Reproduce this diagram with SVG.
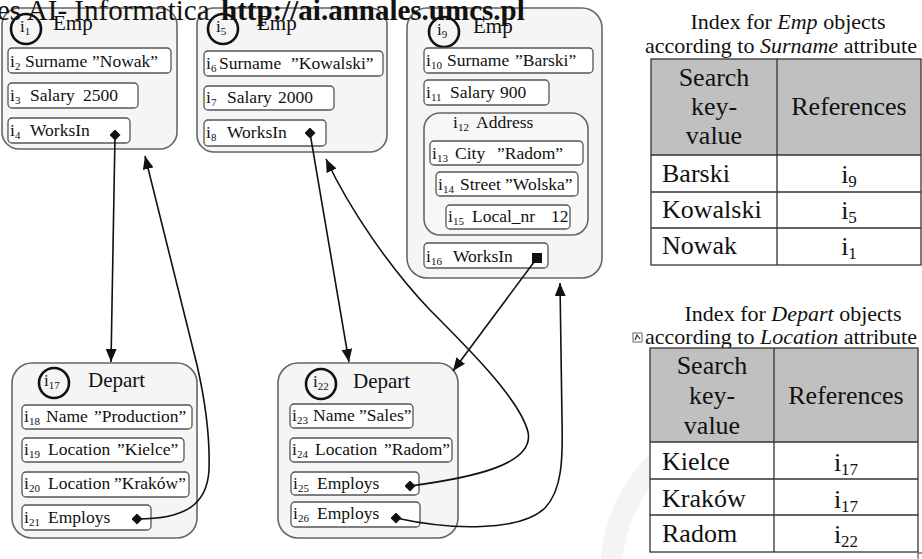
<svg xmlns="http://www.w3.org/2000/svg" width="922" height="559" viewBox="0 0 922 559">
<style>
  text { font-family: "Liberation Serif", "Times New Roman", serif; fill: #111; }
  .t { font-size: 17.5px; }
  .h { font-size: 21px; }
  .c { font-size: 17px; }
  .s { font-size: 11px; }
  .ti { font-size: 22px; }
  .tb { font-size: 26px; }
  .ts { font-size: 17px; }
  .outer { fill: #f5f5f5; stroke: #666; stroke-width: 1.6; }
  .inner { fill: #fff; stroke: #555; stroke-width: 1.3; }
  .circ { fill: none; stroke: #111; stroke-width: 2.6; }
  .conn { fill: none; stroke: #111; stroke-width: 1.6; }
  .grid { fill: none; stroke: #333; stroke-width: 1.3; }
  .hdr { fill: #c0c0c0; }
  .cell { fill: #fff; }
</style>
<defs>
  <marker id="arr" viewBox="0 0 12 10" refX="12" refY="5" markerWidth="13" markerHeight="11" markerUnits="userSpaceOnUse" orient="auto">
    <path d="M0,0 L12,5 L0,10 z" fill="#111"/>
  </marker>
  <marker id="dia" viewBox="0 0 10 10" refX="5" refY="5" markerWidth="11" markerHeight="11" markerUnits="userSpaceOnUse" orient="0">
    <path d="M0,5 L5,0 L10,5 L5,10 z" fill="#111"/>
  </marker>
  <marker id="sq" viewBox="0 0 10 10" refX="5" refY="5" markerWidth="10" markerHeight="10" markerUnits="userSpaceOnUse" orient="0">
    <rect x="0" y="0" width="10" height="10" fill="#111"/>
  </marker>
</defs>
<rect x="0" y="0" width="922" height="559" fill="#fff"/>

<!-- faint watermark -->
<path d="M 612 559 A 150 150 0 0 1 760 420" fill="none" stroke="#f4f4f4" stroke-width="22"/>

<!-- Emp i1 -->
<g id="emp1">
  <rect class="outer" x="2" y="8" width="175" height="141" rx="17"/>
  <circle class="circ" cx="26" cy="29" r="15"/>
  <text class="c" x="20" y="32">i<tspan class="s" dy="3">1</tspan></text>
  <text class="h" x="53" y="30">Emp</text>
  <rect class="inner" x="8" y="48" width="163" height="25" rx="4"/>
  <text class="t" y="67"><tspan x="10">i</tspan><tspan class="s" dy="3">2</tspan><tspan x="25" dy="-3">Surname</tspan><tspan x="92">”Nowak”</tspan></text>
  <rect class="inner" x="8" y="83" width="130" height="25" rx="4"/>
  <text class="t" y="101"><tspan x="10">i</tspan><tspan class="s" dy="3">3</tspan><tspan x="30" dy="-3">Salary</tspan><tspan x="83">2500</tspan></text>
  <rect class="inner" x="8" y="118" width="122" height="25" rx="4"/>
  <text class="t" y="136"><tspan x="10">i</tspan><tspan class="s" dy="3">4</tspan><tspan x="30" dy="-3">WorksIn</tspan></text>
</g>

<!-- Emp i5 -->
<g id="emp5">
  <rect class="outer" x="197" y="8" width="190" height="144" rx="17"/>
  <circle class="circ" cx="223" cy="29" r="15"/>
  <text class="c" x="216" y="32">i<tspan class="s" dy="3">5</tspan></text>
  <text class="h" x="257" y="30">Emp</text>
  <rect class="inner" x="204" y="51" width="179" height="25" rx="4"/>
  <text class="t" y="69"><tspan x="206">i</tspan><tspan class="s" dy="3">6</tspan><tspan x="219" dy="-3">Surname</tspan><tspan x="291">”Kowalski”</tspan></text>
  <rect class="inner" x="204" y="86" width="130" height="24" rx="4"/>
  <text class="t" y="103"><tspan x="206">i</tspan><tspan class="s" dy="3">7</tspan><tspan x="227" dy="-3">Salary</tspan><tspan x="278">2000</tspan></text>
  <rect class="inner" x="204" y="120" width="122" height="26" rx="4"/>
  <text class="t" y="138"><tspan x="206">i</tspan><tspan class="s" dy="3">8</tspan><tspan x="227" dy="-3">WorksIn</tspan></text>
</g>

<!-- Emp i9 -->
<g id="emp9">
  <rect class="outer" x="407" y="8" width="195" height="270" rx="20"/>
  <circle class="circ" cx="444" cy="32" r="15"/>
  <text class="c" x="437" y="35">i<tspan class="s" dy="3">9</tspan></text>
  <text class="h" x="473" y="33">Emp</text>
  <rect class="inner" x="424" y="48" width="169" height="25" rx="4"/>
  <text class="t" y="66"><tspan x="426">i</tspan><tspan class="s" dy="3">10</tspan><tspan x="447" dy="-3">Surname</tspan><tspan x="515">”Barski”</tspan></text>
  <rect class="inner" x="424" y="80" width="125" height="25" rx="4"/>
  <text class="t" y="98"><tspan x="426">i</tspan><tspan class="s" dy="3">11</tspan><tspan x="450" dy="-3">Salary</tspan><tspan x="500">900</tspan></text>
  <g id="address12">
    <rect class="outer" x="424" y="113" width="164" height="122" rx="16" style="fill:#f7f7f7"/>
    <text class="t" y="128"><tspan x="453">i</tspan><tspan class="s" dy="3">12</tspan><tspan x="476" dy="-3">Address</tspan></text>
    <rect class="inner" x="430" y="141" width="153" height="24" rx="4"/>
    <text class="t" y="159"><tspan x="432">i</tspan><tspan class="s" dy="3">13</tspan><tspan x="455" dy="-3">City</tspan><tspan x="497">”Radom”</tspan></text>
    <rect class="inner" x="436" y="172" width="142" height="24" rx="4"/>
    <text class="t" y="190"><tspan x="438">i</tspan><tspan class="s" dy="3">14</tspan><tspan x="460" dy="-3">Street</tspan><tspan x="505">”Wolska”</tspan></text>
    <rect class="inner" x="446" y="205" width="124" height="24" rx="4"/>
    <text class="t" y="222"><tspan x="448">i</tspan><tspan class="s" dy="3">15</tspan><tspan x="472" dy="-3">Local_nr</tspan><tspan x="551">12</tspan></text>
  </g>
  <rect class="inner" x="424" y="243" width="124" height="25" rx="4"/>
  <text class="t" y="262"><tspan x="426">i</tspan><tspan class="s" dy="3">16</tspan><tspan x="453" dy="-3">WorksIn</tspan></text>
</g>

<!-- Depart i17 -->
<g id="depart17">
  <rect class="outer" x="12" y="363" width="185" height="175" rx="20"/>
  <circle class="circ" cx="54" cy="383" r="15"/>
  <text class="c" x="44" y="386">i<tspan class="s" dy="3">17</tspan></text>
  <text class="h" x="88" y="387">Depart</text>
  <rect class="inner" x="22" y="405" width="170" height="24" rx="4"/>
  <text class="t" y="422"><tspan x="24">i</tspan><tspan class="s" dy="3">18</tspan><tspan x="46" dy="-3">Name</tspan><tspan x="94">”Production”</tspan></text>
  <rect class="inner" x="22" y="438" width="162" height="24" rx="4"/>
  <text class="t" y="455"><tspan x="24">i</tspan><tspan class="s" dy="3">19</tspan><tspan x="48" dy="-3">Location</tspan><tspan x="117">”Kielce”</tspan></text>
  <rect class="inner" x="22" y="472" width="167" height="25" rx="4"/>
  <text class="t" y="489"><tspan x="24">i</tspan><tspan class="s" dy="3">20</tspan><tspan x="48" dy="-3">Location</tspan><tspan x="114">”Kraków”</tspan></text>
  <rect class="inner" x="22" y="505" width="129" height="25" rx="4"/>
  <text class="t" y="523"><tspan x="24">i</tspan><tspan class="s" dy="3">21</tspan><tspan x="48" dy="-3">Employs</tspan></text>
</g>

<!-- Depart i22 -->
<g id="depart22">
  <rect class="outer" x="278" y="363" width="180" height="175" rx="20"/>
  <circle class="circ" cx="321" cy="384" r="15"/>
  <text class="c" x="313" y="387">i<tspan class="s" dy="3">22</tspan></text>
  <text class="h" x="353" y="388">Depart</text>
  <rect class="inner" x="290" y="404" width="123" height="24" rx="4"/>
  <text class="t" y="421"><tspan x="292">i</tspan><tspan class="s" dy="3">23</tspan><tspan x="313" dy="-3">Name</tspan><tspan x="359">”Sales”</tspan></text>
  <rect class="inner" x="290" y="438" width="162" height="24" rx="4"/>
  <text class="t" y="455"><tspan x="292">i</tspan><tspan class="s" dy="3">24</tspan><tspan x="315" dy="-3">Location</tspan><tspan x="384">”Radom”</tspan></text>
  <rect class="inner" x="291" y="472" width="128" height="23" rx="4"/>
  <text class="t" y="489"><tspan x="293">i</tspan><tspan class="s" dy="3">25</tspan><tspan x="317" dy="-3">Employs</tspan></text>
  <rect class="inner" x="291" y="502" width="129" height="25" rx="4"/>
  <text class="t" y="519"><tspan x="293">i</tspan><tspan class="s" dy="3">26</tspan><tspan x="317" dy="-3">Employs</tspan></text>
</g>

<!-- connectors -->
<g id="connectors">
  <path class="conn" d="M115,135 L111,362" marker-start="url(#dia)" marker-end="url(#arr)"/>
  <path class="conn" d="M137,519 C185,519 207,505 209,470 C210,440 205,400 197,365 L145,156" marker-start="url(#dia)" marker-end="url(#arr)"/>
  <path class="conn" d="M310,133 L349,362" marker-start="url(#dia)" marker-end="url(#arr)"/>
  <path class="conn" d="M410,486 C470,478 535,465 528,432 C520,400 470,350 430,310 C390,268 350,210 326,159" marker-start="url(#dia)" marker-end="url(#arr)"/>
  <path class="conn" d="M396,518 C450,530 520,532 545,508 C562,490 563,460 562,420 L560,283" marker-start="url(#dia)" marker-end="url(#arr)"/>
  <path class="conn" d="M537,258 L453,371" marker-start="url(#sq)" marker-end="url(#arr)"/>
</g>

<!-- Index table for Emp -->
<g id="index-emp">
  <text class="ti" x="788" y="29" text-anchor="middle">Index for <tspan font-style="italic">Emp</tspan> objects</text>
  <text class="ti" x="781" y="53" text-anchor="middle">according to <tspan font-style="italic">Surname</tspan> attribute</text>
  <rect class="cell" x="651" y="59" width="270" height="206"/>
  <rect class="hdr" x="651" y="59" width="270" height="96"/>
  <rect class="grid" x="651" y="59" width="270" height="206"/>
  <path class="grid" d="M777,59 V265 M651,155 H921 M651,192 H921 M651,228 H921"/>
  <text class="tb" x="714" y="86" text-anchor="middle">Search</text>
  <text class="tb" x="714" y="115" text-anchor="middle">key-</text>
  <text class="tb" x="714" y="144" text-anchor="middle">value</text>
  <text class="tb" x="849" y="115" text-anchor="middle">References</text>
  <text class="tb" x="662" y="182">Barski</text>
  <text class="tb" x="662" y="218">Kowalski</text>
  <text class="tb" x="662" y="254">Nowak</text>
  <text class="tb" x="849" y="183" text-anchor="middle">i<tspan class="ts" dy="4">9</tspan></text>
  <text class="tb" x="849" y="219" text-anchor="middle">i<tspan class="ts" dy="4">5</tspan></text>
  <text class="tb" x="849" y="255" text-anchor="middle">i<tspan class="ts" dy="4">1</tspan></text>
</g>

<!-- Index table for Depart -->
<g id="index-depart">
  <text class="ti" x="793" y="321" text-anchor="middle">Index for <tspan font-style="italic">Depart</tspan> objects</text>
  <text class="ti" x="781" y="344" text-anchor="middle">according to <tspan font-style="italic">Location</tspan> attribute</text>
  <rect x="633" y="333" width="9" height="9" fill="#fff" stroke="#666" stroke-width="1"/>
  <path d="M635,340 L637,335 L640,339" fill="none" stroke="#333" stroke-width="1.2"/>
  <rect class="cell" x="650" y="348" width="268" height="204"/>
  <rect class="hdr" x="650" y="348" width="268" height="94"/>
  <rect class="grid" x="650" y="348" width="268" height="204"/>
  <path class="grid" d="M774,348 V552 M650,442 H918 M650,479 H918 M650,515 H918"/>
  <text class="tb" x="712" y="374" text-anchor="middle">Search</text>
  <text class="tb" x="712" y="404" text-anchor="middle">key-</text>
  <text class="tb" x="712" y="434" text-anchor="middle">value</text>
  <text class="tb" x="846" y="404" text-anchor="middle">References</text>
  <text class="tb" x="662" y="470">Kielce</text>
  <text class="tb" x="662" y="507">Kraków</text>
  <text class="tb" x="662" y="542">Radom</text>
  <text class="tb" x="846" y="471" text-anchor="middle">i<tspan class="ts" dy="4">17</tspan></text>
  <text class="tb" x="846" y="508" text-anchor="middle">i<tspan class="ts" dy="4">17</tspan></text>
  <text class="tb" x="846" y="543" text-anchor="middle">i<tspan class="ts" dy="4">22</tspan></text>
  <path d="M918,559 V553 H922" fill="none" stroke="#333" stroke-width="1"/>
</g>

<!-- header text drawn on top, as in the reference -->
<g id="header">
  <text x="-3" y="20" font-size="29">es AI- Informatica</text>
  <text x="221" y="20" font-size="29" font-weight="bold">http://ai.annales.umcs.pl</text>
</g>
</svg>
